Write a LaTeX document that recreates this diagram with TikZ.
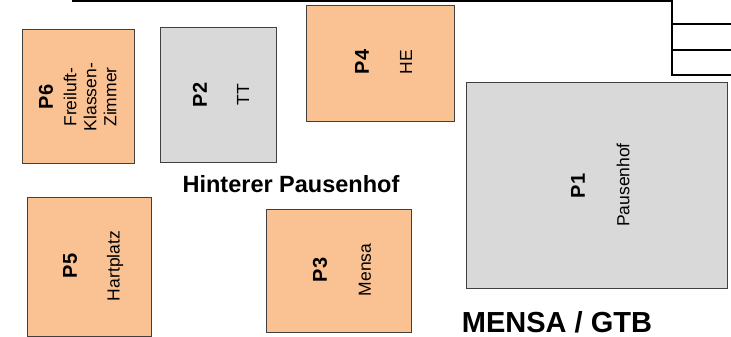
\documentclass[tikz,border=0pt]{standalone}
\usepackage{fontspec}
\setmainfont{Liberation Sans}
\definecolor{orangefill}{RGB}{250,193,146}
\definecolor{grayfill}{RGB}{217,217,217}
\definecolor{edgegray}{RGB}{64,64,64}
\tikzset{
  area/.style={draw=edgegray, line width=1pt, inner sep=0pt, outer sep=0pt},
  orangearea/.style={area, fill=orangefill},
  grayarea/.style={area, fill=grayfill},
  plabel/.style={rotate=90, inner sep=0pt, font=\fontsize{20}{24}\selectfont\bfseries},
  dlabel/.style={rotate=90, inner sep=0pt, align=center, font=\fontsize{17.5}{20}\selectfont},
  wall/.style={line width=2pt, black},
}
\begin{document}
\begin{tikzpicture}[x=1pt,y=-1pt]
\useasboundingbox (0,0) rectangle (731,337);
% top building outline
\coordinate (tl) at (72,1);
\coordinate (tr) at (672,1);
\coordinate (vb) at (672,75);
\coordinate (h1) at (731,24);
\coordinate (h2) at (731,50);
\coordinate (h3) at (731,75);
\draw[wall] (tl) -- (tr) -- (vb) -- (h3);
\draw[wall] (tr |- h1) -- (h1);
\draw[wall] (tr |- h2) -- (h2);
% areas
\draw[orangearea] (22,30) rectangle (134,163);
\node[plabel] (p6) at (46,97) {P6};
\node[dlabel] (p6d) at (90,97) {Freiluft-\\Klassen-\\Zimmer};

\draw[grayarea] (160,28) rectangle (276,162);
\node[plabel] (p2) at (200,95) {P2};
\node[dlabel] (p2d) at (243,95) {TT};

\draw[orangearea] (306,6) rectangle (454,121);
\node[plabel] (p4) at (362,62) {P4};
\node[dlabel] (p4d) at (406,62) {HE};

\draw[grayarea] (466,83) rectangle (727,288);
\node[plabel] (p1) at (578,186) {P1};
\node[dlabel] (p1d) at (623,185) {Pausenhof};

\draw[orangearea] (27,197) rectangle (151,336);
\node[plabel] (p5) at (70,266) {P5};
\node[dlabel] (p5d) at (115,266) {Hartplatz};

\draw[orangearea] (266,209) rectangle (411,332);
\node[plabel] (p3) at (320,270) {P3};
\node[dlabel] (p3d) at (365,270) {Mensa};

\node[font=\fontsize{23.5}{28}\selectfont\bfseries, inner sep=0pt] (hp) at (291,184) {Hinterer Pausenhof};
\node[font=\fontsize{29}{34}\selectfont\bfseries, inner sep=0pt] (mg) at (557,322) {MENSA / GTB};
\end{tikzpicture}
\end{document}
